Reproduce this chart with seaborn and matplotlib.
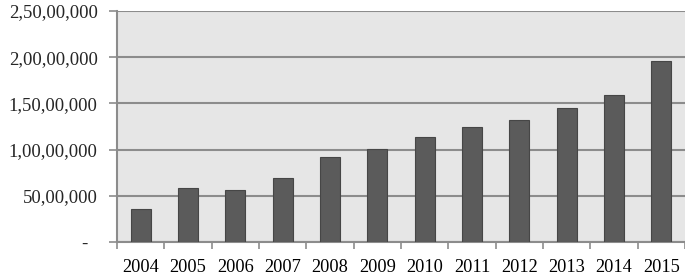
import seaborn as sns
import matplotlib.pyplot as plt
import pandas as pd
from matplotlib.ticker import FixedLocator

# data
years = ['2004', '2005', '2006', '2007', '2008', '2009',
         '2010', '2011', '2012', '2013', '2014', '2015']
values = [3600000, 5850000, 5650000, 6950000, 9200000, 10050000,
          11350000, 12400000, 13200000, 14450000, 15900000, 19550000]
y_ticks = [0, 5000000, 10000000, 15000000, 20000000, 25000000]
y_labels = ['-  ', '50,00,000', '1,00,00,000', '1,50,00,000', '2,00,00,000', '2,50,00,000']

df = pd.DataFrame({'year': years, 'value': values})

sns.set_style('white')
plt.rcParams['font.family'] = ['Liberation Serif', 'DejaVu Serif']

fig = plt.figure(figsize=(6.85, 2.77), dpi=100)
ax = fig.add_axes([0.1708, 0.1264, 0.8292, 0.8339])
ax.set_facecolor('#e6e6e6')

sns.barplot(data=df, x='year', y='value', color='#5b5b5b', width=0.42,
            edgecolor='#464646', linewidth=0.8, saturation=1, ax=ax, zorder=3)

ax.set_ylim(0, 25000000)
ax.set_xlim(-0.5, len(years) - 0.5)
ax.set_yticks(y_ticks)
ax.set_yticklabels(y_labels)
ax.grid(axis='y', color='#8c8c8c', linewidth=1.5, zorder=1)
ax.set_axisbelow(True)

# tick marks between categories
ax.xaxis.set_minor_locator(FixedLocator([i - 0.5 for i in range(len(years) + 1)]))
ax.tick_params(axis='x', which='major', length=0, pad=12, labelsize=13.2, colors='black')
ax.tick_params(axis='x', which='minor', length=5, width=1.2, color='#8c8c8c', bottom=True)
ax.tick_params(axis='y', length=6, width=1.2, color='#8c8c8c', pad=8, labelsize=13.5,
               left=True)

for s in ['top', 'right']:
    ax.spines[s].set_visible(False)
for s in ['left', 'bottom']:
    ax.spines[s].set_color('#8c8c8c')
    ax.spines[s].set_linewidth(1.5)

ax.set_xlabel('')
ax.set_ylabel('')

plt.savefig('out.png', dpi=100)
